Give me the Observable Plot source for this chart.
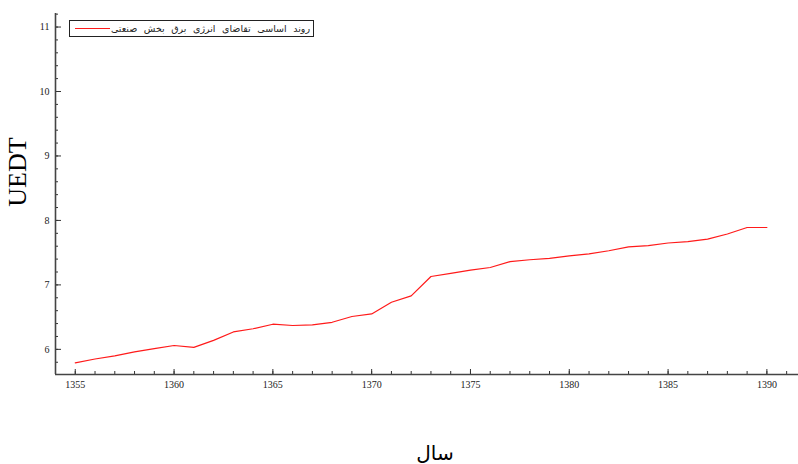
<!DOCTYPE html>
<html><head><meta charset="utf-8">
<script src="https://cdn.jsdelivr.net/npm/d3@7"></script>
<script src="https://cdn.jsdelivr.net/npm/@observablehq/plot@0.6"></script>
<style>
body{margin:0;background:#fff}
#wrap{position:relative;width:798px;height:464px}
#legend{position:absolute;left:69px;top:20px;width:245px;height:17px;box-sizing:border-box;border:1px solid #222;background:#fff}
#legend .ln{position:absolute;left:5px;top:7px;width:35px;height:0;border-top:1.2px solid #ff1a1a}
#legend .tx{position:absolute;right:3px;top:1px;font-family:"DejaVu Sans";font-size:9.5px;word-spacing:3.5px;line-height:13px;color:#222;direction:rtl;white-space:nowrap}
</style></head><body><div id="wrap"></div>
<script>
const years = [1355,1356,1357,1358,1359,1360,1361,1362,1363,1364,1365,1366,1367,1368,1369,1370,1371,1372,1373,1374,1375,1376,1377,1378,1379,1380,1381,1382,1383,1384,1385,1386,1387,1388,1389,1390];
const uedt = [5.79,5.85,5.90,5.96,6.01,6.06,6.03,6.14,6.27,6.32,6.39,6.37,6.38,6.42,6.51,6.55,6.73,6.83,7.13,7.18,7.23,7.27,7.36,7.39,7.41,7.45,7.48,7.53,7.59,7.61,7.65,7.67,7.71,7.79,7.89,7.89];
const xTicks = [1355,1360,1365,1370,1375,1380,1385,1390];
const yTicks = [6,7,8,9,10,11];
const xMinor = [1354,1355,1356,1357,1358,1359,1360,1361,1362,1363,1364,1365,1366,1367,1368,1369,1370,1371,1372,1373,1374,1375,1376,1377,1378,1379,1380,1381,1382,1383,1384,1385,1386,1387,1388,1389,1390,1391];
const yMinor = [5.8,6,6.2,6.4,6.6,6.8,7,7.2,7.4,7.6,7.8,8,8.2,8.4,8.6,8.8,9,9.2,9.4,9.6,9.8,10,10.2,10.4,10.6,10.8,11,11.2];
const xDomain = [1354, 1391.6];
const yDomain = [5.61, 11.21];
const seriesName = "روند اساسی تقاضای انرژی برق بخش صنعتی";
const xLabel = "سال";
const yLabel = "UEDT";

const data = years.map((y, i) => ({year: y, v: uedt[i]}));
const W = 798, H = 464, mL = 55, mT = 13, mB = 90, mR = 0;
const fW = W - mL - mR, fH = H - mT - mB;

const chart = Plot.plot({
  width: W, height: H, marginLeft: mL, marginTop: mT, marginBottom: mB, marginRight: mR,
  x: {domain: xDomain},
  y: {domain: yDomain},
  style: {fontFamily: "Liberation Serif", fontSize: "10px", color: "#222", background: "#fff"},
  marks: [
    Plot.line(data, {x: "year", y: "v", stroke: "#ff1a1a", strokeWidth: 1.2}),
    Plot.tickY(yMinor, {y: d => d, insetRight: fW - 3, stroke: "#333"}),
    Plot.tickY(yTicks, {y: d => d, insetRight: fW - 6, stroke: "#333"}),
    Plot.tickX(xMinor, {x: d => d, insetTop: fH - 3, stroke: "#333"}),
    Plot.tickX(xTicks, {x: d => d, insetTop: fH - 5, stroke: "#333"}),
    Plot.ruleX([xDomain[0]], {stroke: "#444", strokeWidth: 1.6}),
    Plot.ruleY([yDomain[0]], {stroke: "#444", strokeWidth: 1.6}),
    Plot.axisY(yTicks, {tickSize: 0, tickPadding: 6, label: null, tickFormat: d => String(d)}),
    Plot.axisX(xTicks, {tickSize: 0, tickPadding: 6, label: null, tickFormat: d => String(d)}),
    Plot.text([yLabel], {frameAnchor: "left", textAnchor: "middle", dx: -38, dy: -22, rotate: -90, fontSize: 26, fontFamily: "Liberation Serif", fill: "#000"}),
    Plot.text([xLabel], {frameAnchor: "bottom", textAnchor: "middle", dx: 8, dy: 85, fontSize: 20, fontFamily: "DejaVu Sans", fill: "#000"})
  ]
});
const wrap = document.getElementById("wrap");
wrap.appendChild(chart);
const leg = document.createElement("div");
leg.id = "legend";
leg.innerHTML = `<div class="ln"></div><div class="tx">${seriesName}</div>`;
wrap.appendChild(leg);
</script></body></html>
